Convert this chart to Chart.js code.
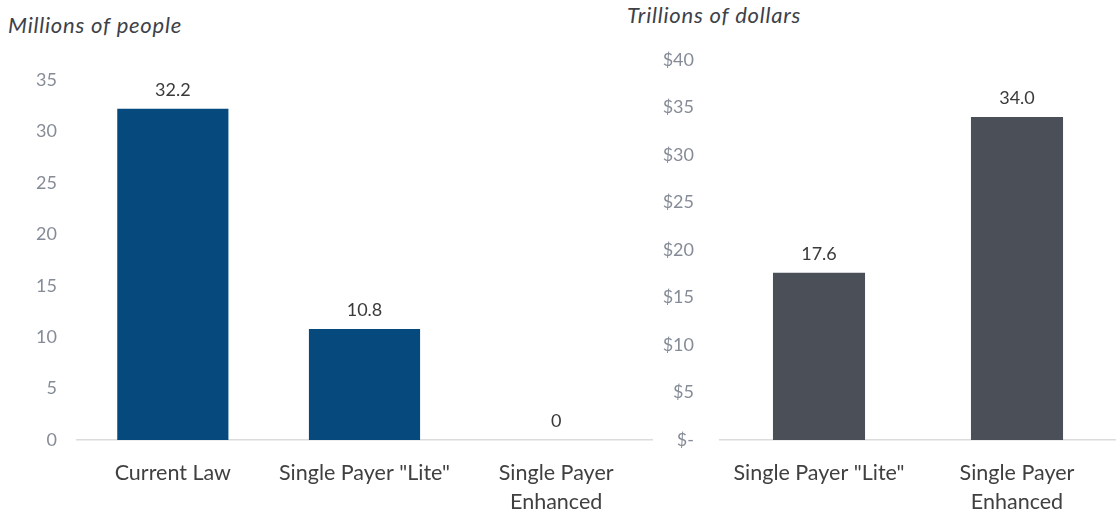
<!DOCTYPE html>
<html>
<head>
<meta charset="utf-8">
<script src="https://cdn.jsdelivr.net/npm/chart.js@4.4.0/dist/chart.umd.min.js"></script>
<style>
  html, body { margin: 0; padding: 0; background: #fff; }
  #wrap { position: relative; width: 1116px; height: 515px; overflow: hidden; font-family: Lato, "Open Sans", sans-serif; }
  .ttl { position: absolute; font-style: italic; font-size: 22px; letter-spacing: 0.8px; color: #3d4148; white-space: nowrap; line-height: 26px; }
  #c1box { position: absolute; left: 0; top: 0; width: 660px; height: 515px; }
  #c2box { position: absolute; left: 660px; top: 0; width: 456px; height: 515px; }
</style>
</head>
<body>
<div id="wrap">
  <div class="ttl" style="left:8px; top:12px;">Millions of people</div>
  <div class="ttl" style="left:627px; top:2px;">Trillions of dollars</div>
  <div id="c1box"><canvas id="c1" width="660" height="515"></canvas></div>
  <div id="c2box"><canvas id="c2" width="456" height="515"></canvas></div>
</div>
<script>
// ---- Data ----
const peopleCategories = ["Current Law", 'Single Payer "Lite"', ["Single Payer", "Enhanced"]];
const peopleValues = [32.2, 10.8, 0];
const peopleTicks = [0, 5, 10, 15, 20, 25, 30, 35];

const costCategories = ['Single Payer "Lite"', ["Single Payer", "Enhanced"]];
const costValues = [17.6, 34.0];
const costTicks = [0, 5, 10, 15, 20, 25, 30, 35, 40];

const FONT = 'Lato, "Open Sans", sans-serif';

const valueLabels = {
  id: 'valueLabels',
  afterDatasetsDraw(chart, args, opts) {
    const ctx = chart.ctx;
    const meta = chart.getDatasetMeta(0);
    ctx.save();
    ctx.font = '18px ' + FONT;
    ctx.fillStyle = '#3a3a3a';
    ctx.textAlign = 'center';
    ctx.textBaseline = 'middle';
    meta.data.forEach((bar, i) => {
      const v = chart.data.datasets[0].data[i];
      ctx.fillText(opts.format(v), bar.x, bar.y - 19);
    });
    ctx.restore();
  }
};

function makeChart(id, cats, vals, ticks, color, yMax, leftW, labelRight, topPad, rightPad, barPct, tickFmt, valFmt) {
  return new Chart(document.getElementById(id), {
    type: 'bar',
    data: {
      labels: cats,
      datasets: [{ data: vals, backgroundColor: color, borderWidth: 0, barPercentage: barPct, categoryPercentage: 1 }]
    },
    options: {
      responsive: false,
      animation: false,
      layout: { padding: { top: topPad, right: rightPad, bottom: 0, left: 0 } },
      plugins: {
        legend: { display: false },
        tooltip: { enabled: false },
        valueLabels: { format: valFmt }
      },
      scales: {
        x: {
          grid: { display: false, drawTicks: false },
          border: { display: true, color: '#dcdcdc', width: 1.5 },
          ticks: { color: '#404040', font: { family: FONT, size: 21.5, lineHeight: 1.36 }, padding: 18, maxRotation: 0, autoSkip: false },
          afterFit(s) { s.height = 75; }
        },
        y: {
          min: 0, max: yMax,
          grid: { display: false, drawTicks: false },
          border: { display: false },
          afterBuildTicks(s) { s.ticks = ticks.map(v => ({ value: v })); },
          ticks: { color: '#868c97', font: { family: FONT, size: 18 }, padding: leftW - labelRight, callback: tickFmt },
          afterFit(s) { s.width = leftW; }
        }
      }
    },
    plugins: [valueLabels]
  });
}

makeChart('c1', peopleCategories, peopleValues, peopleTicks, '#064a7d', 35, 77, 57, 80, 8, 0.58,
  v => String(v), v => (v === 0 ? '0' : v.toFixed(1)));
makeChart('c2', costCategories, costValues, costTicks, '#4b4f57', 40, 60, 34, 60, 0, 0.465,
  v => (v === 0 ? '$-' : '$' + v), v => v.toFixed(1));
</script>
</body>
</html>
